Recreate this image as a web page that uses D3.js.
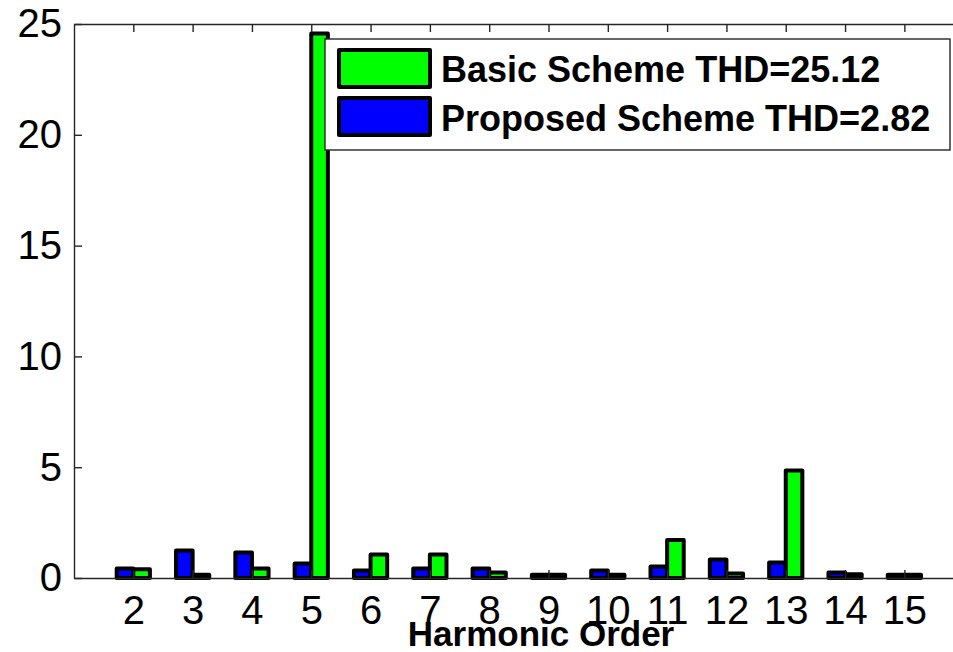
<!DOCTYPE html>
<html>
<head>
<meta charset="utf-8">
<script src="https://cdn.jsdelivr.net/npm/d3@7"></script>
<style>
  html, body { margin: 0; padding: 0; background: #fff; }
  svg { display: block; font-family: "Liberation Sans", Arial, sans-serif; }
</style>
</head>
<body>
<svg id="chart" width="953" height="652"></svg>
<script>
// ---- data ----
const harmonics = [2, 3, 4, 5, 6, 7, 8, 9, 10, 11, 12, 13, 14, 15];
const proposed  = [0.43, 1.24, 1.15, 0.65, 0.34, 0.43, 0.43, 0.15, 0.34, 0.52, 0.83, 0.70, 0.25, 0.15];
const basic     = [0.40, 0.15, 0.43, 24.57, 1.06, 1.06, 0.25, 0.15, 0.15, 1.71, 0.20, 4.85, 0.17, 0.15];
const yTicks    = [0, 5, 10, 15, 20, 25];
const legendLabels = ["Basic Scheme THD=25.12", "Proposed Scheme THD=2.82"];
const colors = { basic: "#00ff00", proposed: "#0000ff" };

// ---- layout ----
const svg = d3.select("#chart");
const plotLeft = 74, plotTop = 24, plotBottom = 578;
const x = d3.scaleLinear().domain([1, 17]).range([plotLeft, 1023]);
const y = d3.scaleLinear().domain([0, 25]).range([plotBottom, plotTop]);
const unit = x(2) - x(1);
const bw = unit * 0.28;

// ---- bars ----
const gBars = svg.append("g");
gBars.selectAll("rect.p").data(harmonics).join("rect")
  .attr("x", (d) => x(d) - bw)
  .attr("y", (d, i) => y(proposed[i]))
  .attr("width", bw)
  .attr("height", (d, i) => y(0) - y(proposed[i]))
  .attr("fill", colors.proposed)
  .attr("stroke", "#000").attr("stroke-width", 4).attr("stroke-linejoin", "round");
gBars.selectAll("rect.b").data(harmonics).join("rect")
  .attr("x", (d) => x(d))
  .attr("y", (d, i) => y(basic[i]))
  .attr("width", bw)
  .attr("height", (d, i) => y(0) - y(basic[i]))
  .attr("fill", colors.basic)
  .attr("stroke", "#000").attr("stroke-width", 4).attr("stroke-linejoin", "round");

// ---- axes ----
const axisColor = "#262626";
const yAxis = d3.axisLeft(y).tickValues(yTicks).tickSizeInner(-8).tickSizeOuter(0).tickPadding(12);
const gy = svg.append("g").attr("transform", `translate(${plotLeft},0)`).call(yAxis);
const xAxis = d3.axisBottom(x).tickValues(harmonics).tickSizeInner(-8).tickSizeOuter(0).tickPadding(18);
const gx = svg.append("g").attr("transform", `translate(0,${plotBottom})`).call(xAxis);
const xTop = d3.axisTop(x).tickValues(harmonics).tickSizeInner(-8).tickSizeOuter(0).tickFormat("");
const gxt = svg.append("g").attr("transform", `translate(0,${plotTop})`).call(xTop);
[gy, gx, gxt].forEach(g => {
  g.selectAll(".domain").attr("stroke", axisColor).attr("stroke-width", 1.4);
  g.selectAll(".tick line").attr("stroke", axisColor).attr("stroke-width", 1.4);
  g.selectAll("text").attr("fill", "#000").style("font-size", "40px")
    .style("font-family", "'Liberation Sans', Arial, sans-serif");
});

// ---- legend ----
const lg = svg.append("g");
lg.append("rect").attr("x", 325).attr("y", 39).attr("width", 625).attr("height", 111)
  .attr("fill", "#fff").attr("stroke", axisColor).attr("stroke-width", 1.4);
const legendColors = [colors.basic, colors.proposed];
legendLabels.forEach((lab, i) => {
  lg.append("rect").attr("x", 339).attr("y", 50 + i * 48).attr("width", 91).attr("height", 37)
    .attr("fill", legendColors[i]).attr("stroke", "#000").attr("stroke-width", 4)
    .attr("stroke-linejoin", "round");
  lg.append("text").attr("x", 441).attr("y", 82 + i * 49)
    .style("font-size", "36px").style("font-weight", "bold").attr("fill", "#000").text(lab);
});

// ---- x label ----
svg.append("text").attr("x", 541).attr("y", 646).attr("text-anchor", "middle")
  .style("font-size", "35px").style("font-weight", "bold").attr("fill", "#000")
  .text("Harmonic Order");
</script>
</body>
</html>
